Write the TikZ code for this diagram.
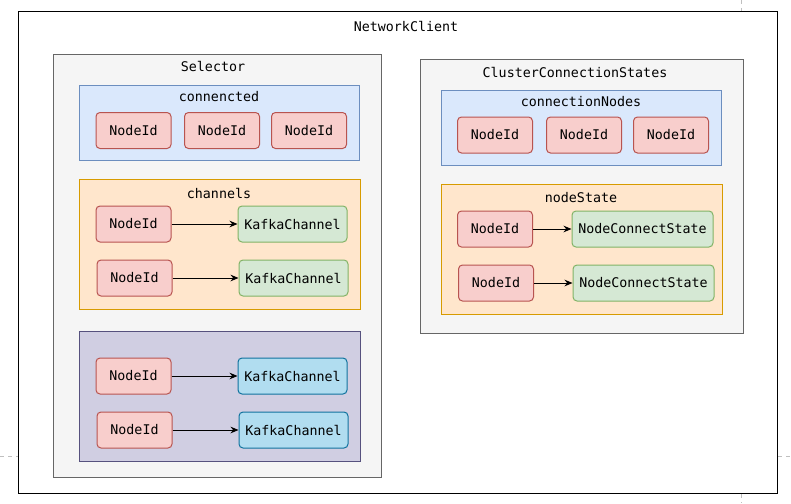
\documentclass[tikz,border=0pt]{standalone}
\usepackage{fontspec}
\setmonofont{DejaVu Sans Mono}
\usepackage{tikz}
\usetikzlibrary{arrows.meta,positioning}
\definecolor{grayfill}{HTML}{F5F5F5}
\definecolor{graydraw}{HTML}{666666}
\definecolor{bluefill}{HTML}{DAE8FC}
\definecolor{bluedraw}{HTML}{6C8EBF}
\definecolor{redfill}{HTML}{F8CECC}
\definecolor{reddraw}{HTML}{B85450}
\definecolor{orangefill}{HTML}{FFE6CC}
\definecolor{orangedraw}{HTML}{D79B00}
\definecolor{greenfill}{HTML}{D5E8D4}
\definecolor{greendraw}{HTML}{82B366}
\definecolor{purplefill}{HTML}{D0CEE2}
\definecolor{purpledraw}{HTML}{56517E}
\definecolor{cyanfill}{HTML}{B1DDF0}
\definecolor{cyandraw}{HTML}{10739E}
\tikzstyle{every node}=[font=\ttfamily\fontsize{10pt}{12pt}\selectfont,inner sep=0pt,line width=0.75pt]
\tikzstyle{outerbox}=[rectangle,draw=black,fill=white,minimum width=569.25pt,minimum height=360.75pt]
\tikzstyle{classbox}=[rectangle,draw=graydraw,fill=grayfill]
\tikzstyle{setbox}=[rectangle,draw=bluedraw,fill=bluefill,minimum width=210pt,minimum height=56.25pt]
\tikzstyle{mapbox}=[rectangle,draw=orangedraw,fill=orangefill,minimum width=210.75pt,minimum height=97.5pt]
\tikzstyle{keybox}=[rectangle,rounded corners=3pt,draw=reddraw,fill=redfill,minimum width=56.25pt,minimum height=27pt]
\tikzstyle{valbox}=[rectangle,rounded corners=3pt,draw=greendraw,fill=greenfill,minimum height=27pt]
\tikzstyle{chanbox}=[rectangle,rounded corners=3pt,draw=cyandraw,fill=cyanfill,minimum width=81.75pt,minimum height=27pt]
\tikzstyle{mapsto}=[-{Stealth[length=6pt,width=5pt]},line width=0.75pt]
\tikzstyle{pagebreak}=[draw=black!25,dashed,line width=0.5pt]

\begin{document}
\begin{tikzpicture}[x=0.75pt,y=-0.75pt]
    \useasboundingbox (0,0) rectangle (791,503);
    \draw[pagebreak] (741,0) -- (741,12);
    \draw[pagebreak] (741,494) -- (741,503);
    \draw[pagebreak] (0,456) -- (18,456);
    \draw[pagebreak] (778,456) -- (791,456);
    \node[outerbox] (client) at (397.5,252.5) {};
    \node (clienttitle) at (406,26) {NetworkClient};
%   Selector
    \node[classbox,minimum width=246pt,minimum height=316.5pt] (sel) at (217,266) {};
    \node (seltitle) at (213,66) {Selector};
    \node[setbox] (conn) at (219,122.5) {};
    \node (conntitle) at (219,97) {connencted};
    \node[keybox] (c1) at (133.5,130.5) {NodeId};
    \node[keybox] (c2) at (222,130.5) {NodeId};
    \node[keybox] (c3) at (309,130.5) {NodeId};
    \node[mapbox] (chan) at (219.5,244) {};
    \node (chantitle) at (219,193) {channels};
    \node[keybox] (k1) at (133.5,224) {NodeId};
    \node[valbox,minimum width=81.75pt] (v1) at (292.5,224) {KafkaChannel};
    \node[keybox] (k2) at (134.5,278) {NodeId};
    \node[valbox,minimum width=81.75pt] (v2) at (293.5,278) {KafkaChannel};
    \draw[mapsto] (k1) -- (v1);
    \draw[mapsto] (k2) -- (v2);
    \node[mapbox,draw=purpledraw,fill=purplefill] (other) at (219.5,396) {};
    \node[keybox] (k3) at (133.5,376) {NodeId};
    \node[chanbox] (v3) at (292.5,376) {KafkaChannel};
    \node[keybox] (k4) at (134.5,430) {NodeId};
    \node[chanbox] (v4) at (293.5,430) {KafkaChannel};
    \draw[mapsto] (k3) -- (v3);
    \draw[mapsto] (k4) -- (v4);
%   ClusterConnectionStates
    \node[classbox,minimum width=242.25pt,minimum height=204.75pt] (ccs) at (581.5,196.5) {};
    \node (ccstitle) at (575,72) {ClusterConnectionStates};
    \node[setbox] (cn) at (581,127.5) {};
    \node (cntitle) at (581,102) {connectionNodes};
    \node[keybox] (n1) at (495,135) {NodeId};
    \node[keybox] (n2) at (584,135) {NodeId};
    \node[keybox] (n3) at (671,135) {NodeId};
    \node[mapbox] (ns) at (581.5,249) {};
    \node (nstitle) at (581,198) {nodeState};
    \node[keybox] (s1) at (495,229) {NodeId};
    \node[valbox,minimum width=105.75pt] (t1) at (642.5,229) {NodeConnectState};
    \node[keybox] (s2) at (496,283) {NodeId};
    \node[valbox,minimum width=105.75pt] (t2) at (643.5,283) {NodeConnectState};
    \draw[mapsto] (s1) -- (t1);
    \draw[mapsto] (s2) -- (t2);
\end{tikzpicture}
\end{document}
